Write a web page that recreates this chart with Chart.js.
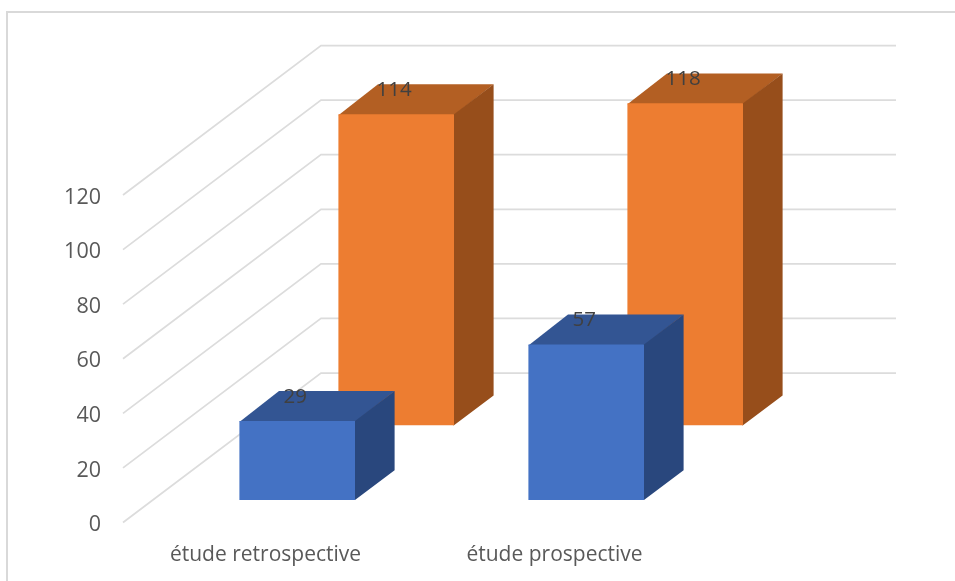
<!DOCTYPE html>
<html lang="fr">
<head>
<meta charset="utf-8">
<title>Études rétrospective et prospective</title>
<script src="https://cdn.jsdelivr.net/npm/chart.js@4"></script>
<style>
    html, body { margin: 0; padding: 0; background: #fff; }
    canvas { display: block; }
</style>
</head>
<body>
<canvas id="studyChart" width="955" height="581"></canvas>
<script>
// ==================== DATA ====================
const categories = ['étude retrospective', 'étude prospective'];
const blueValues = [29, 57];
const orangeValues = [114, 118];
const tickValues = [0, 20, 40, 60, 80, 100, 120];

// ==================== 3D PROJECTION ====================
// Floor runs from the front plane to the back wall along this vector
const FLOOR_DX = 198;
const FLOOR_DY = -149.5;
const WALL_RIGHT = 896;
const BAR_DEPTH = 0.2;

const FONT = '"Open Sans", sans-serif';
const GRID_COLOR = '#dcdcdc';

// depth = how far along the floor the front of the series stands
const seriesStyles = [
    { depth: 0.15, top: '#335593', side: '#29477d' },
    { depth: 0.65, top: '#b35f23', side: '#974e1b' }
];

function depthOffset(depth) {
    return { x: FLOOR_DX * depth, y: FLOOR_DY * depth };
}

function fillPoly(ctx, color, points) {
    ctx.fillStyle = color;
    ctx.beginPath();
    points.forEach(([x, y], i) => i ? ctx.lineTo(x, y) : ctx.moveTo(x, y));
    ctx.closePath();
    ctx.fill();
}

// ==================== AXIS LABEL NUDGES ====================
class NudgedLinearScale extends Chart.LinearScale {
    static id = 'nudgedLinear';
    static defaults = Chart.LinearScale.defaults;
    drawLabels(area) {
        this.ctx.save();
        this.ctx.translate(0, 2.5);
        super.drawLabels(area);
        this.ctx.restore();
    }
}

class NudgedCategoryScale extends Chart.CategoryScale {
    static id = 'nudgedCategory';
    static defaults = Chart.CategoryScale.defaults;
    drawLabels(area) {
        this.ctx.save();
        this.ctx.translate(-2, 0);
        super.drawLabels(area);
        this.ctx.restore();
    }
}

Chart.register(NudgedLinearScale, NudgedCategoryScale);

const frame3d = {
    id: 'frame3d',

    // Outer chart frame, open on the right and at the bottom
    beforeDraw(chart) {
        const { ctx, width, height } = chart;
        ctx.save();
        ctx.strokeStyle = '#d9d9d9';
        ctx.lineWidth = 2;
        ctx.beginPath();
        ctx.moveTo(7, height);
        ctx.lineTo(7, 12);
        ctx.lineTo(width, 12);
        ctx.stroke();
        ctx.restore();
    },

    // Gridlines go up the left wall, then across the back wall
    beforeDatasetsDraw(chart) {
        const { ctx, chartArea, scales } = chart;
        ctx.save();
        ctx.strokeStyle = GRID_COLOR;
        ctx.lineWidth = 1.75;
        scales.y.ticks.forEach(tick => {
            const y = scales.y.getPixelForValue(tick.value);
            ctx.beginPath();
            ctx.moveTo(chartArea.left, y);
            ctx.lineTo(chartArea.left + FLOOR_DX, y + FLOOR_DY);
            ctx.lineTo(WALL_RIGHT, y + FLOOR_DY);
            ctx.stroke();
        });
        ctx.restore();
    },

    // Top and side faces go down first, running 1px under the front face
    // the library then draws, shifted back to the series depth
    beforeDatasetDraw(chart, args) {
        const { ctx } = chart;
        const style = seriesStyles[args.index];
        const off = depthOffset(style.depth);
        const d = depthOffset(BAR_DEPTH);
        ctx.save();
        ctx.translate(off.x, off.y);
        args.meta.data.forEach(bar => {
            const left = bar.x - bar.width / 2;
            const right = bar.x + bar.width / 2;
            fillPoly(ctx, style.top, [
                [left, bar.y + 1], [right, bar.y + 1],
                [right + d.x, bar.y + d.y], [left + d.x, bar.y + d.y]
            ]);
            fillPoly(ctx, style.side, [
                [right - 1, bar.y], [right, bar.y], [right + d.x, bar.y + d.y],
                [right + d.x, bar.base + d.y], [right, bar.base], [right - 1, bar.base]
            ]);
        });
    },

    afterDatasetDraw(chart) {
        chart.ctx.restore();
    },

    // Value labels sit on the top faces, above every bar
    afterDatasetsDraw(chart) {
        const { ctx } = chart;
        ctx.save();
        ctx.fillStyle = '#404040';
        ctx.font = '20.5px ' + FONT;
        ctx.textAlign = 'center';
        ctx.textBaseline = 'middle';
        chart.data.datasets.forEach((dataset, i) => {
            const off = depthOffset(seriesStyles[i].depth);
            chart.getDatasetMeta(i).data.forEach((bar, j) => {
                ctx.fillText(dataset.data[j], bar.x + off.x - 2, bar.y + off.y - 24);
            });
        });
        ctx.restore();
    }
};

// ==================== CHART ====================
new Chart(document.getElementById('studyChart'), {
    type: 'bar',
    data: {
        labels: categories,
        datasets: [
            { label: 'Série 1', data: blueValues, backgroundColor: '#4472c4', clip: false },
            { label: 'Série 2', data: orangeValues, backgroundColor: '#ed7d31', clip: false }
        ]
    },
    options: {
        responsive: false,
        animation: false,
        grouped: false,
        categoryPercentage: 1,
        barPercentage: 0.4,
        layout: { padding: { top: 195, right: 254, left: 0, bottom: 0 } },
        plugins: {
            legend: { display: false },
            tooltip: { enabled: false }
        },
        scales: {
            x: {
                type: 'nudgedCategory',
                grid: { display: false },
                border: { display: false },
                afterFit: scale => { scale.height = 58.5; },
                ticks: {
                    padding: 12,
                    maxRotation: 0,
                    color: '#595959',
                    font: { family: FONT, size: 21 }
                }
            },
            y: {
                type: 'nudgedLinear',
                min: 0,
                max: 120,
                grid: { display: false, drawTicks: false },
                border: { display: false },
                afterBuildTicks: scale => { scale.ticks = tickValues.map(value => ({ value })); },
                afterFit: scale => { scale.width = 123; },
                ticks: {
                    padding: 22,
                    color: '#595959',
                    font: { family: FONT, size: 21.5 }
                }
            }
        }
    },
    plugins: [frame3d]
});
</script>
</body>
</html>
